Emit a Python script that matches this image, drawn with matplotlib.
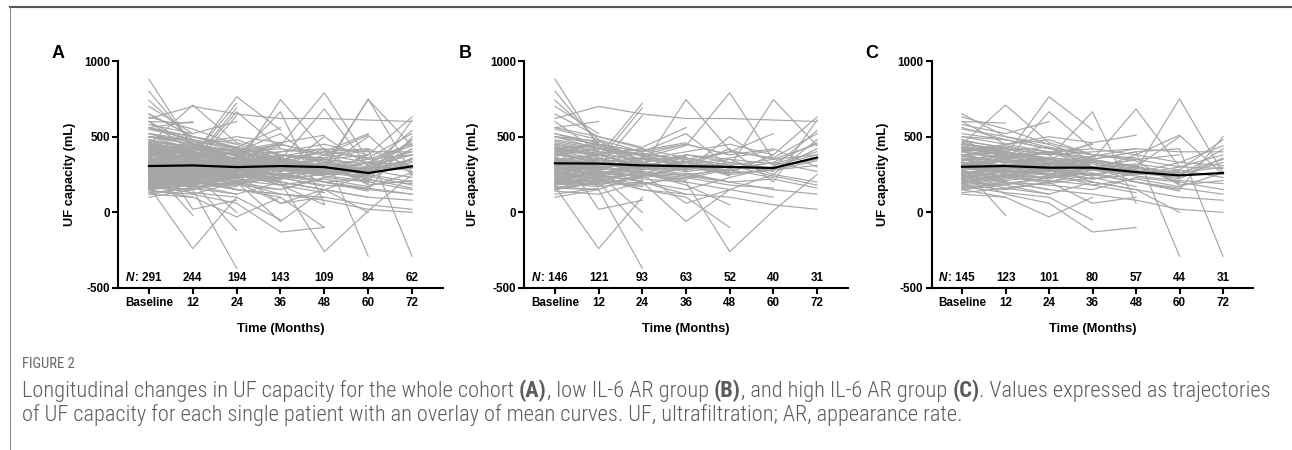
import matplotlib
matplotlib.use("Agg")
import matplotlib.pyplot as plt
from matplotlib import font_manager
from matplotlib.lines import Line2D

# ---------------- data ----------------
time_labels = ["Baseline", "12", "24", "36", "48", "60", "72"]
y_ticks = [-500, 0, 500, 1000]

n_whole = [291, 244, 194, 143, 109, 84, 62]
n_low = [146, 121, 93, 63, 52, 40, 31]
n_high = [145, 123, 101, 80, 57, 44, 31]

mean_whole = [306, 310, 299, 306, 299, 260, 304]
mean_low = [324, 322, 310, 305, 300, 293, 362]
mean_high = [301, 306, 295, 295, 266, 244, 260]

# individual patient trajectories (mL), low IL-6 AR group (read/estimated)
traj_low = [
    [880, 430, 380, 300, 250, 280, 420],
    [420, 450, 300, 745, 410, 350, 450],
    [330, 280, 360, 440, 790, 350, 380],
    [300, 350, 280, 330, 300, 745, 440],
    [620, 700, 650, 620, 620, 610, 600],
    [250, 300, 220, 200, -260, 10, 250],
    [200, 180, 250, 350, 260, 380, 630],
    [350, 380, 420, 300, 420, 200, 610],
    [280, 250, 200, 150, 230, 300, 540],
    [450, 400, 330, 380, 350, 250, 480],
    [180, 220, 150, 120, 100, 50, 20],
    [400, 320, 300, 270, 300, 280, 340],
    [150, 200, 180, 250, 200, 150, 120],
    [500, 450, 400, 450, 380, 420, 300],
    [320, 350, 250, 200, 150, 250, 200],
    [260, 240, 330, 280, 500, 310, 380],
    [340, 300, 330, 290, 350, 320, 400],
    [230, 270, 240, 300, 260, 280, 310],
    [410, 380, 350, 310, 280, 330, 270],
    [190, 210, 260, 230, 310, 240, 180],
    [470, 420, 390, 350, 400, 360, 520],
    [270, 330, 290, 380, 330, 290, 350],
    [360, 290, 270, 240, 200, 220, 160],
    [210, 250, 310, 360, 290, 330, 460],
    [380, 420, 350, 400, 450, 380],
    [220, 260, 300, 250, 280, 230],
    [550, 480, 400, 520, 300, 290],
    [170, 150, 250, 60, 150, 100],
    [300, 280, 360, 330, 400, 520],
    [310, 350, 320, 280, 330, 270],
    [430, 390, 420, 360, 310, 350],
    [260, 220, 190, 230, 180, 160],
    [180, 240, 280, 310, 360, 410],
    [360, 320, 290, 340, 250],
    [240, 280, 200, -60, 150],
    [300, 250, 150, 100, -100],
    [450, 400, 380, 450, 380],
    [200, 230, 260, 180, 50],
    [330, 360, 300, 280, 320],
    [390, 330, 360, 300, 270],
    [280, 310, 250, 220, 290],
    [520, 440, 370, 330, 240],
    [160, 190, 230, 260, 200],
    [650, 500, 430, 560],
    [270, 300, 350, 320],
    [190, 170, 200, 120],
    [480, 430, 320, 280],
    [350, 310, 410, 460],
    [320, 290, 330, 370],
    [240, 220, 260, 210],
    [430, 380, 300, 330],
    [200, 260, 240, 290],
    [370, 420, 380, 350],
    [290, 250, 290, 240],
    [740, 480, 340],
    [800, 450, 400],
    [420, 370, 720],
    [380, 340, 690],
    [350, 300, 640],
    [160, 150, -370],
    [170, -240, 100],
    [260, 200, -120],
    [230, 250, 0],
    [560, 500, 420],
    [300, 350, 280],
    [210, 180, 240],
    [400, 450, 370],
    [140, 120, 200],
    [310, 290, 330],
    [450, 20, 80],
    [340, 380, 310],
    [260, 300, 350],
    [190, 240, 210],
    [450, 380, 300],
    [320, 270, 230],
    [220, 200, 280],
    [410, 350, 390],
    [280, 330, 260],
    [150, 210, 170],
    [360, 320, 360],
    [500, 470, 330],
    [240, 280, 300],
    [560, 600],
    [700, 520],
    [600, 400],
    [330, 380],
    [250, 300],
    [180, 220],
    [440, 360],
    [120, 160],
    [380, 470],
    [290, 240],
    [210, 330],
    [500, 420],
    [100, 150],
    [350, 280],
    [310, 340],
    [270, 230],
    [420, 390],
    [200, 280],
    [340, 300],
    [460, 410],
    [230, 190],
    [390, 350],
    [160, 220],
    [280, 320],
    [520, 460],
    [320, 260],
]

# individual patient trajectories (mL), high IL-6 AR group (read/estimated)
traj_high = [
    [300, 280, 250, 300, 280, 750, 260],
    [350, 300, 320, 350, 400, 420, -290],
    [450, 420, 380, 400, 420, 400, 400],
    [200, 250, 230, 300, 200, 150, 500],
    [550, 500, 430, 300, 250, 280, 480],
    [250, 200, 150, 120, 80, 20, 0],
    [400, 350, 400, 350, 300, 250, 330],
    [180, 150, 200, 250, 300, 200, 150],
    [300, 350, 280, 220, 250, 300, 290],
    [500, 450, 480, 380, 340, 180, 210],
    [150, 180, 120, 200, 150, 100, 80],
    [380, 400, 320, 280, 380, 510, 250],
    [260, 300, 350, 330, 280, 220, 360],
    [420, 380, 300, 250, 200, 160, 120],
    [330, 250, 220, 300, 260, 330, 440],
    [280, 320, 300, 330, 290, 260, 300],
    [350, 380, 340, 290, 320, 280, 230],
    [220, 270, 250, 280, 240, 210, 190],
    [430, 400, 360, 340, 300, 260, 350],
    [310, 260, 290, 320, 270, 240, 420],
    [190, 230, 210, 180, 220, 170, 260],
    [470, 430, 400, 420, 380, 330, 310],
    [260, 280, 330, 300, 350, 300, 380],
    [280, 350, 300, 350, 400, -290],
    [230, 280, 250, 346, 683, 300],
    [400, 350, 300, 200, 150, 0],
    [500, 480, 420, 380, 350, 380],
    [160, 200, 180, 150, 230, 200],
    [320, 260, 290, 240, 300, 500],
    [330, 300, 270, 290, 260, 230],
    [240, 290, 330, 280, 250, 270],
    [410, 360, 390, 340, 310, 190],
    [200, 180, 230, 260, 200, 140],
    [350, 300, 360, 665, 60],
    [250, 120, 60, -130, -100],
    [420, 400, 350, 460, 510],
    [180, 220, 260, 180, 130],
    [600, 450, 400, 300, 350],
    [300, 340, 280, 370, 420],
    [220, 160, 200, 60, 100],
    [370, 330, 310, 350, 300],
    [290, 350, 320, 290, 250],
    [210, 240, 190, 230, 170],
    [450, 410, 430, 380, 360],
    [330, 280, 250, 220, 280],
    [450, 709, 460, 380],
    [300, 370, 764, 544],
    [380, 330, 665, 420],
    [650, 500, 450, 350],
    [150, 100, -30, 100],
    [250, 300, 280, 250],
    [170, 130, 100, -50],
    [480, 420, 380, 450],
    [320, 380, 350, 300],
    [220, 250, 200, 280],
    [400, 450, 500, 460],
    [380, 420, 350, 300],
    [260, 230, 270, 330],
    [310, 360, 330, 370],
    [200, 250, 280, 240],
    [430, 380, 400, 360],
    [280, 300, 240, 260],
    [350, 310, 360, 330],
    [170, 210, 240, 200],
    [630, 550, 450],
    [580, 520, 600],
    [280, 300, 250],
    [190, 230, 280],
    [350, 280, 320],
    [130, 160, 120],
    [460, 400, 350],
    [240, 200, 150],
    [520, 480, 420],
    [300, 350, 400],
    [340, 370, 330],
    [270, 240, 280],
    [410, 440, 380],
    [220, 280, 250],
    [300, 260, 300],
    [380, 330, 360],
    [250, 310, 270],
    [160, 190, 230],
    [440, 390, 340],
    [320, 350, 310],
    [300, -20],
    [560, 480],
    [420, 380],
    [200, 250],
    [120, 100],
    [370, 400],
    [260, 300],
    [480, 350],
    [150, 200],
    [330, 270],
    [600, 590],
    [290, 320],
    [360, 330],
    [230, 270],
    [400, 430],
    [270, 240],
    [340, 390],
    [190, 240],
    [450, 400],
    [310, 280],
    [240, 210],
]

traj_whole = traj_low + traj_high

caption_title = "FIGURE 2"
caption_line1 = [
    ("Longitudinal changes in UF capacity for the whole cohort ", "light"),
    ("(A)", "bold"),
    (", low IL-6 AR group ", "light"),
    ("(B)", "bold"),
    (", and high IL-6 AR group ", "light"),
    ("(C)", "bold"),
    (". Values expressed as trajectories", "light"),
]
caption_line2 = [
    ("of UF capacity for each single patient with an overlay of mean curves. "
     "UF, ultrafiltration; AR, appearance rate.", "light"),
]

# ---------------- layout ----------------
W, H = 1292, 450
plt.rcParams["font.family"] = ["Liberation Sans", "DejaVu Sans"]
fig = plt.figure(figsize=(W / 100, H / 100), dpi=100)
renderer = fig.canvas.get_renderer()

AX_TOP, AX_BOT = 61, 288
XLIM = (-0.7, 6.7)
GREY = "#a6a6a6"

panels = [
    # letter, trajectories, mean, N, baseline px, step px, letter pos, ylabel x px
    ("A", traj_whole, mean_whole, n_whole, 149, 43.83, (58, 53), 70.5),
    ("B", traj_low, mean_low, n_low, 555, 43.67, (465, 53), 473),
    ("C", traj_high, mean_high, n_high, 962, 43.5, (872, 53), 882.5),
]

for letter, trajs, mean, ns, base_px, step, lpos, ylab_x in panels:
    left = base_px + XLIM[0] * step
    width = (XLIM[1] - XLIM[0]) * step
    ax = fig.add_axes([left / W, 1 - AX_BOT / H, width / W, (AX_BOT - AX_TOP) / H])
    xs = list(range(len(time_labels)))
    for tr in trajs:
        ax.plot(xs[:len(tr)], tr, color=GREY, lw=0.85, solid_joinstyle="miter", zorder=1)
    ax.plot(xs, mean, color="black", lw=1.6, zorder=3)

    ax.set_xlim(*XLIM)
    ax.set_ylim(-500, 1000)
    ax.set_xticks(xs)
    ax.set_xticklabels(time_labels)
    ax.set_yticks(y_ticks)
    ax.set_yticklabels([str(v) for v in y_ticks])
    for s in ("top", "right"):
        ax.spines[s].set_visible(False)
    for s in ("left", "bottom"):
        ax.spines[s].set_linewidth(1.5)
    ax.tick_params(axis="both", direction="out", length=4, width=1.5,
                   labelsize=8.4, pad=2)
    ax.tick_params(axis="x", pad=2.5)
    for lab in ax.get_xticklabels() + ax.get_yticklabels():
        lab.set_fontweight("bold")

    ax.set_xlabel("Time (Months)", fontsize=9.3, fontweight="bold")
    ax.xaxis.set_label_coords(0.5, (AX_BOT - 329) / (AX_BOT - AX_TOP))
    ax.xaxis.label.set_va("center")
    ax.set_ylabel("UF capacity (mL)", fontsize=9.3, fontweight="bold")
    ax.yaxis.set_label_coords((ylab_x - left) / width, 0.5)
    ax.yaxis.label.set_va("center")

    # N counts
    n_y = -435
    for i, n in enumerate(ns):
        if i == 0:
            jx = -0.33
            ax.text(jx, n_y, "N", fontsize=8.4, fontweight="bold", style="italic",
                    ha="right", va="center")
            ax.text(jx, n_y, ": " + str(n), fontsize=8.4, fontweight="bold",
                    ha="left", va="center")
        else:
            ax.text(i, n_y, str(n), fontsize=8.4, fontweight="bold",
                    ha="center", va="center")

    fig.text(lpos[0] / W, 1 - lpos[1] / H, letter, fontsize=13, fontweight="bold",
             ha="center", va="center")

# frame lines
fig.add_artist(Line2D([10 / W, 1.0], [1 - 7 / H, 1 - 7 / H], color="#555555", lw=1.5))
fig.add_artist(Line2D([10 / W, 10 / W], [1 - 7 / H, 0.0], color="#8a8a8a", lw=0.8))

# caption
names = {f.name for f in font_manager.fontManager.ttflist}
cap_font = "Roboto"
for cand in ("Roboto Condensed", "Liberation Sans Narrow", "Open Sans Condensed", "Roboto"):
    if cand in names:
        cap_font = cand
        break
CAP_COLOR = "#5c5c5c"


def text_width(s, size, weight, family):
    t = fig.text(0, 0, s + "|", fontsize=size, fontweight=weight, family=family)
    t2 = fig.text(0, 0, "|", fontsize=size, fontweight=weight, family=family)
    w = t.get_window_extent(renderer).width - t2.get_window_extent(renderer).width
    t.remove()
    t2.remove()
    return w


def line_width(parts, size):
    return sum(text_width(s, size, w, cap_font) for s, w in parts)


# fit caption size so line 1 spans ~22..1268 px
target = 1268 - 22
w10 = line_width(caption_line1, 10)
cap_size = 10 * target / w10


def draw_line(parts, x0, y, size):
    x = x0
    for s, w in parts:
        fig.text(x / W, 1 - y / H, s, fontsize=size, fontweight=w, family=cap_font,
                 color=CAP_COLOR, ha="left", va="center")
        x += text_width(s, size, w, cap_font)


draw_line(caption_line1, 22, 391, cap_size)
draw_line(caption_line2, 22, 415, cap_size)

t_w10 = text_width(caption_title, 10, "normal", cap_font)
fig.text(22 / W, 1 - 364 / H, caption_title, fontsize=10 * 53 / t_w10, family=cap_font,
         color="#666666", ha="left", va="center")

fig.savefig("out.png", dpi=100)
